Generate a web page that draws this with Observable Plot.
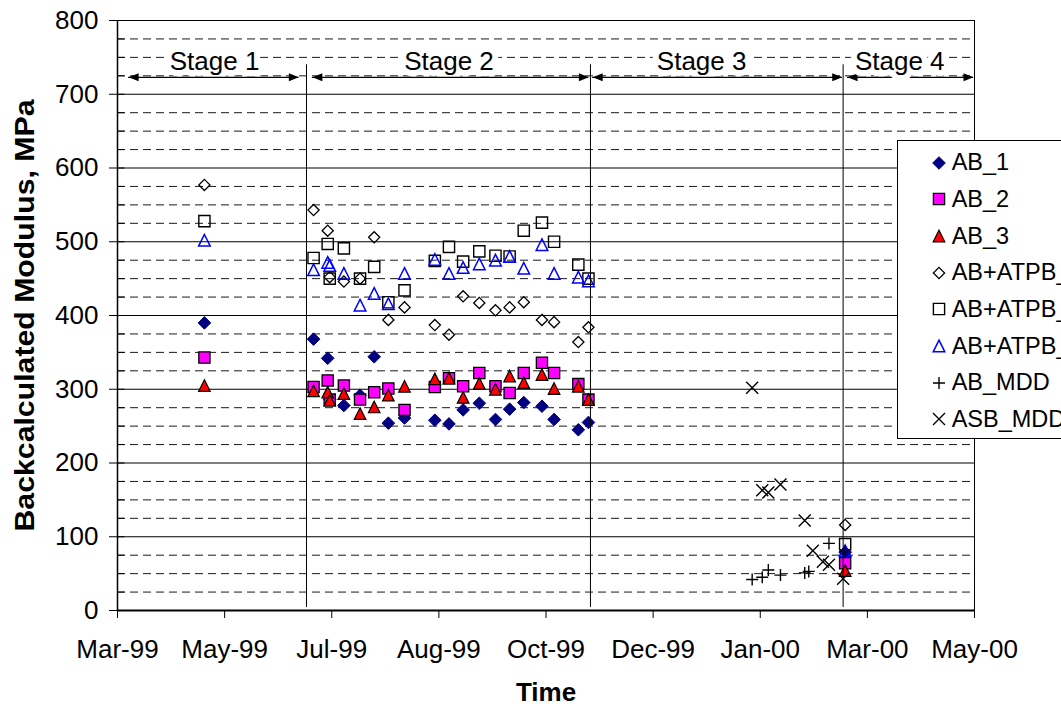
<!DOCTYPE html>
<html>
<head>
<meta charset="utf-8">
<script src="https://cdn.jsdelivr.net/npm/d3@7"></script>
<script src="https://cdn.jsdelivr.net/npm/@observablehq/plot@0.6"></script>
<style>
html,body{margin:0;padding:0;background:#fff;overflow:hidden;}
#chart{position:relative;width:1061px;height:708px;overflow:hidden;}
#legend{position:absolute;left:897px;top:140px;width:220px;height:297px;border:1px solid #000;background:#fff;
  font-family:"Liberation Sans",Arial,sans-serif;font-size:23.5px;color:#000;white-space:nowrap;}
</style>
</head>
<body>
<div id="chart"></div>
<script>
// ---------------- data ----------------
const seriesNames = ["AB_1","AB_2","AB_3","AB+ATPB_1","AB+ATPB_2","AB+ATPB_3","AB_MDD","ASB_MDD"];

// FWD test dates for the AB / AB+ATPB sections
const fwdDates = ["1999-04-30",
  "1999-06-23","1999-06-30","1999-07-01","1999-07-08","1999-07-16","1999-07-23","1999-07-30",
  "1999-08-07","1999-08-22","1999-08-29","1999-09-05","1999-09-13","1999-09-21","1999-09-28",
  "1999-10-05","1999-10-14","1999-10-20","1999-11-01","1999-11-06",
  "2000-03-12"];
const ab1   = [390, 368,342,286,278,292,344,254,261,258,253,272,281,259,273,282,277,259,245,255, 79];
const ab2   = [343, 303,312,286,305,286,296,301,272,303,315,304,322,304,295,322,336,322,307,286, 64];
const ab3   = [305, 298,296,285,294,267,276,292,304,314,315,289,308,300,318,309,320,301,304,286, 54];
const atpb1 = [577, 543,515,452,446,450,506,394,411,387,374,426,417,407,411,418,394,391,364,384,116];
const atpb2 = [528, 478,497,450,491,450,466,418,434,474,493,473,487,481,480,515,526,500,469,450, 90];
const atpb3 = [502, 462,472,468,457,414,430,416,457,476,457,465,470,475,480,464,496,457,452,447, 81];

// MDD sections (Stage 3 / Stage 4)
const abMddDates = ["2000-01-26","2000-01-31","2000-02-03","2000-02-09","2000-02-21","2000-02-23","2000-03-04","2000-03-12"];
const abMdd      = [42, 45, 55, 48, 51, 53, 91, 80];
const asbMddDates = ["2000-01-26","2000-01-31","2000-02-03","2000-02-09","2000-02-21","2000-02-25","2000-03-01","2000-03-04","2000-03-11"];
const asbMdd      = [302, 163, 160, 171, 122, 81, 66, 62, 43];

// axis ticks
const xTickDates = ["1999-03-18","1999-05-10","1999-07-02","1999-08-24","1999-10-16","1999-12-08","2000-01-30","2000-03-23","2000-05-15"];
const yMajorTicks = [0,100,200,300,400,500,600,700,800];
const yMinorTicks = [25,50,75,125,150,175,225,250,275,325,350,375,425,450,475,525,550,575,625,650,675,725,750,775];

// stage annotations
const stageNames      = ["Stage 1","Stage 2","Stage 3","Stage 4"];
const stageArrowStart = ["1999-03-23T12:00Z","1999-06-22T10:00Z","1999-11-08T02:00Z","2000-03-13T05:00Z"];
const stageArrowEnd   = ["1999-06-15T18:00Z","1999-11-06T05:00Z","2000-03-10T14:00Z","2000-05-14T12:00Z"];
const stageLabelAt    = ["1999-05-05","1999-08-29","2000-01-01","2000-04-08"];
const stageBoundaries = ["1999-06-19T12:00Z","1999-11-07","2000-03-11"];
const stageArrowLevel = 723;
const stageLabelLevel = 744;
const stageLineTop = 740, stageLineBottom = 4;

const yTitle = "Backcalculated Modulus, MPa";
const xTitle = "Time";

// ---------------- styles ----------------
const rOf = s => Math.sqrt(s / Math.PI);
const sym = {
  diamond: {draw(c, s){ const r = rOf(s); c.moveTo(0,-r); c.lineTo(r,0); c.lineTo(0,r); c.lineTo(-r,0); c.closePath(); }},
  square:  {draw(c, s){ const r = rOf(s); c.moveTo(-r,-r); c.lineTo(r,-r); c.lineTo(r,r); c.lineTo(-r,r); c.closePath(); }},
  triangle:{draw(c, s){ const r = rOf(s); c.moveTo(0,-r); c.lineTo(r,r); c.lineTo(-r,r); c.closePath(); }},
  plus:    {draw(c, s){ const r = rOf(s); c.moveTo(-r,0); c.lineTo(r,0); c.moveTo(0,-r); c.lineTo(0,r); }},
  times:   {draw(c, s){ const r = rOf(s); c.moveTo(-r,-r); c.lineTo(r,r); c.moveTo(-r,r); c.lineTo(r,-r); }},
  headR:   {draw(c){ c.moveTo(0,0); c.lineTo(-10,-4); c.lineTo(-10,4); c.closePath(); }},
  headL:   {draw(c){ c.moveTo(0,0); c.lineTo(10,-4); c.lineTo(10,4); c.closePath(); }},
  tickIn:  {draw(c){ c.moveTo(0,0); c.lineTo(7,0); }}
};
const seriesStyle = {
  "AB_1":      {symbol: sym.diamond,  r: 6.3, fill: "#000080", stroke: "#000080", strokeWidth: 1},
  "AB_2":      {symbol: sym.square,   r: 5.6, fill: "#FF00FF", stroke: "#000", strokeWidth: 1.3},
  "AB_3":      {symbol: sym.triangle, r: 5.8, fill: "#FF0000", stroke: "#000", strokeWidth: 1.2},
  "AB+ATPB_1": {symbol: sym.diamond,  r: 5.6, fill: "none", stroke: "#000", strokeWidth: 1.3},
  "AB+ATPB_2": {symbol: sym.square,   r: 5.6, fill: "none", stroke: "#000", strokeWidth: 1.4},
  "AB+ATPB_3": {symbol: sym.triangle, r: 5.8, fill: "none", stroke: "#0000FF", strokeWidth: 1.5},
  "AB_MDD":    {symbol: sym.plus,     r: 6,   fill: "none", stroke: "#000", strokeWidth: 1.4},
  "ASB_MDD":   {symbol: sym.times,    r: 6,   fill: "none", stroke: "#000", strokeWidth: 1.4}
};

// ---------------- tables ----------------
const rows = [];
[ab1, ab2, ab3, atpb1, atpb2, atpb3].forEach((vals, i) =>
  vals.forEach((v, j) => rows.push({series: seriesNames[i], date: new Date(fwdDates[j]), value: v})));
abMdd.forEach((v, j) => rows.push({series: "AB_MDD", date: new Date(abMddDates[j]), value: v}));
asbMdd.forEach((v, j) => rows.push({series: "ASB_MDD", date: new Date(asbMddDates[j]), value: v}));

const stages = stageNames.map((name, i) => ({
  name, start: new Date(stageArrowStart[i]), end: new Date(stageArrowEnd[i]), label: new Date(stageLabelAt[i])
}));
const xTicks = xTickDates.map(d => new Date(d));
const x0 = xTicks[0], x1 = xTicks[xTicks.length - 1];
const allYTicks = [...yMajorTicks, ...yMinorTicks];

function arrowMarks(data) {
  return [
    Plot.ruleY(data, {y: () => stageArrowLevel, x1: "start", x2: "end", stroke: "#000", strokeWidth: 1.2}),
    Plot.dot(data, {x: "end", y: () => stageArrowLevel, symbol: sym.headR, fill: "#000", stroke: "none"}),
    Plot.dot(data, {x: "start", y: () => stageArrowLevel, symbol: sym.headL, fill: "#000", stroke: "none"})
  ];
}

const font = '"Liberation Sans", Arial, sans-serif';

const chart = Plot.plot({
  width: 1061, height: 708,
  marginLeft: 117, marginRight: 87, marginTop: 20, marginBottom: 98,
  x: {type: "utc", domain: [x0, x1]},
  y: {domain: [0, 800]},
  style: {fontFamily: font, fontSize: "26px", color: "#000", background: "#fff"},
  marks: [
    Plot.ruleY(yMinorTicks, {stroke: "#1a1a1a", strokeDasharray: "8,5", strokeWidth: 1}),
    Plot.ruleY(yMajorTicks.filter(v => v > 0), {stroke: "#000", strokeWidth: 1}),
    Plot.ruleX([x1], {stroke: "#000", strokeWidth: 1}),
    ...arrowMarks(stages.filter(s => s.name === "Stage 4")),
    Plot.text(stages, {x: "label", y: () => stageLabelLevel, text: "name", fill: "#000",
      stroke: "#fff", strokeWidth: 12, fontSize: 26, textAnchor: "middle", lineAnchor: "middle"}),
    ...arrowMarks(stages.filter(s => s.name !== "Stage 4")),
    ...seriesNames.map(name => {
      const st = seriesStyle[name];
      return Plot.dot(rows.filter(r => r.series === name), {
        x: "date", y: "value", symbol: st.symbol, r: st.r,
        fill: st.fill, stroke: st.stroke, strokeWidth: st.strokeWidth
      });
    }),
    Plot.ruleX(stageBoundaries.map(d => new Date(d)), {y1: stageLineBottom, y2: stageLineTop, stroke: "#000", strokeWidth: 1}),
    Plot.ruleY([0], {stroke: "#000", strokeWidth: 2}),
    Plot.ruleX([x0], {stroke: "#000", strokeWidth: 1.5}),
    Plot.dot(allYTicks, {x: () => x0, y: d => d, symbol: sym.tickIn, stroke: "#000", strokeWidth: 1}),
    Plot.axisY({ticks: yMajorTicks, tickSize: 8, tickPadding: 11, label: null, fontSize: 26}),
    Plot.axisX({ticks: xTicks, tickFormat: d3.utcFormat("%b-%y"), tickSize: 8, tickPadding: 21, label: null, fontSize: 26}),
    Plot.text([yTitle], {frameAnchor: "left", dx: -92, rotate: -90, textAnchor: "middle", lineAnchor: "middle",
      fontWeight: "bold", fontSize: 27, fill: "#000"}),
    Plot.text([xTitle], {frameAnchor: "bottom", dy: 82, textAnchor: "middle", lineAnchor: "middle",
      fontWeight: "bold", fontSize: 26, fill: "#000"})
  ]
});
document.getElementById("chart").appendChild(chart);
d3.select(chart).selectAll("text")
  .filter(function() { return this.textContent === yTitle; })
  .attr("textLength", 432).attr("lengthAdjust", "spacingAndGlyphs");

// ---------------- legend ----------------
const legend = d3.select("#chart").append("div").attr("id", "legend");
seriesNames.forEach((name, i) => {
  const st = seriesStyle[name];
  const row = legend.append("div")
    .style("position", "absolute").style("left", "0px")
    .style("top", (3.3 + i * 36.67) + "px").style("height", "36.67px").style("width", "220px");
  const svg = row.append("svg").attr("width", 20).attr("height", 20)
    .style("position", "absolute").style("left", "31.3px").style("top", "8.3px");
  const p = d3.path();
  st.symbol.draw(p, st.r * st.r * Math.PI);
  svg.append("path").attr("transform", "translate(10,10)").attr("d", p.toString())
    .attr("fill", st.fill).attr("stroke", st.stroke).attr("stroke-width", st.strokeWidth);
  row.append("span").style("position", "absolute").style("left", "53.7px")
    .style("line-height", "36.67px").text(name);
});
</script>
</body>
</html>
